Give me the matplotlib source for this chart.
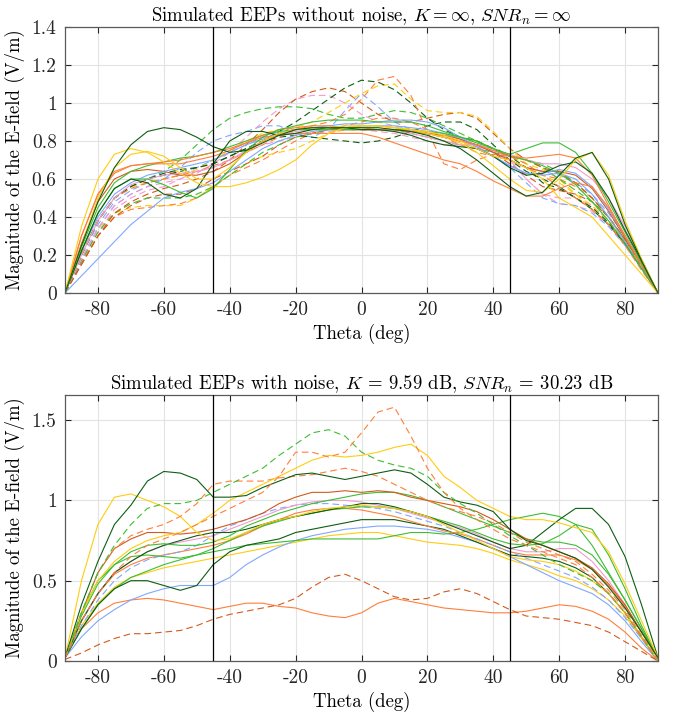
import numpy as np
import matplotlib
matplotlib.use("Agg")
import matplotlib.pyplot as plt

plt.rcParams['font.family'] = ['cmr10', 'DejaVu Serif']
plt.rcParams['mathtext.fontset'] = 'cm'
plt.rcParams['axes.unicode_minus'] = False
plt.rcParams['axes.formatter.use_mathtext'] = True

#%% data (theta every 5 deg)
theta = np.arange(-90, 91, 5)

# --- upper panel: without noise
t_dgreen1 = [0, 0.25, 0.48, 0.66, 0.78, 0.85, 0.87, 0.86, 0.82, 0.77, 0.74, 0.75, 0.79, 0.83, 0.86, 0.87, 0.87, 0.87, 0.87,
             0.87, 0.86, 0.85, 0.83, 0.80, 0.76, 0.70, 0.63, 0.56, 0.51, 0.53, 0.62, 0.71, 0.74, 0.60, 0.36, 0.17, 0]
t_yellow1 = [0, 0.35, 0.60, 0.73, 0.76, 0.74, 0.69, 0.63, 0.58, 0.56, 0.56, 0.58, 0.61, 0.65, 0.70, 0.78, 0.84, 0.87, 0.88,
             0.88, 0.87, 0.86, 0.84, 0.82, 0.79, 0.74, 0.67, 0.60, 0.54, 0.53, 0.60, 0.70, 0.74, 0.62, 0.38, 0.18, 0]
t_yellow2 = [0, 0.25, 0.50, 0.66, 0.73, 0.745, 0.72, 0.66, 0.60, 0.60, 0.66, 0.74, 0.80, 0.84, 0.86, 0.87, 0.87, 0.88, 0.88,
             0.88, 0.87, 0.86, 0.85, 0.83, 0.80, 0.76, 0.72, 0.70, 0.66, 0.60, 0.50, 0.45, 0.40, 0.30, 0.20, 0.10, 0]
t_blue1 = [0, 0.09, 0.18, 0.27, 0.36, 0.43, 0.50, 0.53, 0.55, 0.58, 0.64, 0.70, 0.76, 0.80, 0.83, 0.85, 0.86, 0.87, 0.88,
           0.88, 0.88, 0.87, 0.86, 0.84, 0.81, 0.77, 0.72, 0.67, 0.63, 0.62, 0.63, 0.60, 0.52, 0.40, 0.27, 0.13, 0]
t_orange1 = [0, 0.30, 0.52, 0.63, 0.67, 0.68, 0.68, 0.68, 0.70, 0.72, 0.75, 0.79, 0.82, 0.83, 0.84, 0.84, 0.84, 0.84, 0.84,
             0.82, 0.79, 0.76, 0.73, 0.70, 0.68, 0.64, 0.59, 0.55, 0.51, 0.51, 0.55, 0.58, 0.56, 0.45, 0.30, 0.15, 0]
t_green1 = [0, 0.22, 0.42, 0.55, 0.60, 0.60, 0.57, 0.53, 0.50, 0.55, 0.65, 0.75, 0.82, 0.86, 0.88, 0.90, 0.91, 0.91, 0.91,
            0.90, 0.90, 0.90, 0.88, 0.85, 0.82, 0.80, 0.76, 0.73, 0.76, 0.79, 0.79, 0.74, 0.63, 0.48, 0.32, 0.16, 0]
t_orange2 = [0, 0.30, 0.52, 0.64, 0.67, 0.68, 0.69, 0.70, 0.72, 0.74, 0.76, 0.79, 0.83, 0.86, 0.87, 0.88, 0.88, 0.87, 0.87,
             0.86, 0.86, 0.85, 0.84, 0.82, 0.80, 0.78, 0.75, 0.72, 0.71, 0.72, 0.73, 0.71, 0.62, 0.46, 0.30, 0.15, 0]
t_pink1 = [0, 0.20, 0.38, 0.50, 0.57, 0.60, 0.62, 0.63, 0.64, 0.66, 0.70, 0.75, 0.80, 0.83, 0.85, 0.86, 0.86, 0.86, 0.86,
           0.86, 0.85, 0.84, 0.82, 0.80, 0.78, 0.77, 0.75, 0.73, 0.70, 0.68, 0.68, 0.66, 0.60, 0.50, 0.35, 0.18, 0]
t_dorange1 = [0, 0.26, 0.48, 0.60, 0.64, 0.65, 0.64, 0.62, 0.62, 0.64, 0.68, 0.74, 0.80, 0.84, 0.86, 0.87, 0.87, 0.86, 0.86,
              0.86, 0.86, 0.85, 0.84, 0.83, 0.81, 0.78, 0.74, 0.70, 0.66, 0.64, 0.64, 0.62, 0.55, 0.43, 0.29, 0.15, 0]
t_dgreen2 = [0, 0.22, 0.42, 0.55, 0.60, 0.58, 0.52, 0.50, 0.55, 0.68, 0.80, 0.85, 0.85, 0.83, 0.84, 0.86, 0.87, 0.87, 0.86,
             0.86, 0.85, 0.83, 0.80, 0.78, 0.77, 0.76, 0.72, 0.66, 0.62, 0.63, 0.67, 0.69, 0.63, 0.50, 0.33, 0.17, 0]
t_blue2 = [0, 0.22, 0.40, 0.52, 0.58, 0.62, 0.64, 0.66, 0.68, 0.70, 0.74, 0.78, 0.81, 0.84, 0.86, 0.87, 0.88, 0.89, 0.89,
           0.90, 0.91, 0.91, 0.90, 0.87, 0.82, 0.77, 0.72, 0.67, 0.63, 0.63, 0.65, 0.63, 0.56, 0.44, 0.30, 0.15, 0]
t_green2 = [0, 0.24, 0.45, 0.58, 0.64, 0.67, 0.69, 0.71, 0.72, 0.74, 0.77, 0.80, 0.83, 0.85, 0.86, 0.86, 0.86, 0.86, 0.86,
            0.86, 0.86, 0.86, 0.85, 0.84, 0.82, 0.79, 0.76, 0.72, 0.70, 0.67, 0.63, 0.57, 0.48, 0.38, 0.26, 0.13, 0]
t_orange_d1 = [0, 0.20, 0.38, 0.50, 0.55, 0.58, 0.60, 0.62, 0.64, 0.67, 0.70, 0.74, 0.78, 0.82, 0.86, 0.88, 0.90, 0.94, 1.02,
               1.12, 1.14, 1.04, 0.85, 0.68, 0.65, 0.70, 0.73, 0.72, 0.68, 0.62, 0.56, 0.50, 0.44, 0.36, 0.25, 0.12, 0]
t_dgreen_d1 = [0, 0.20, 0.38, 0.50, 0.56, 0.60, 0.63, 0.65, 0.66, 0.68, 0.72, 0.76, 0.80, 0.85, 0.90, 0.96, 1.02, 1.08, 1.12,
               1.11, 1.07, 1.00, 0.92, 0.86, 0.82, 0.80, 0.76, 0.72, 0.66, 0.58, 0.55, 0.50, 0.45, 0.37, 0.26, 0.13, 0]
t_yellow_d1 = [0, 0.20, 0.38, 0.50, 0.56, 0.58, 0.60, 0.62, 0.65, 0.70, 0.75, 0.80, 0.84, 0.86, 0.87, 0.90, 0.95, 1.00, 1.05,
               1.09, 1.10, 1.02, 0.96, 0.95, 0.95, 0.93, 0.85, 0.76, 0.68, 0.62, 0.58, 0.52, 0.46, 0.38, 0.27, 0.14, 0]
t_dorange_d1 = [0, 0.15, 0.30, 0.42, 0.48, 0.52, 0.55, 0.57, 0.60, 0.64, 0.70, 0.78, 0.86, 0.95, 1.02, 1.06, 1.08, 1.06, 1.00,
                0.94, 0.90, 0.90, 0.92, 0.94, 0.95, 0.92, 0.84, 0.76, 0.70, 0.66, 0.63, 0.58, 0.50, 0.40, 0.28, 0.14, 0]
t_pink_d1 = [0, 0.18, 0.34, 0.46, 0.52, 0.56, 0.58, 0.60, 0.63, 0.68, 0.74, 0.82, 0.90, 0.97, 1.02, 1.04, 1.04, 1.00, 0.94,
             0.90, 0.88, 0.86, 0.84, 0.82, 0.80, 0.78, 0.76, 0.70, 0.60, 0.52, 0.50, 0.50, 0.46, 0.38, 0.27, 0.14, 0]
t_green_d1 = [0, 0.20, 0.38, 0.50, 0.56, 0.60, 0.64, 0.70, 0.78, 0.86, 0.92, 0.95, 0.97, 0.98, 0.98, 0.97, 0.94, 0.92, 0.92,
              0.94, 0.96, 0.95, 0.92, 0.88, 0.84, 0.80, 0.76, 0.72, 0.70, 0.68, 0.64, 0.58, 0.50, 0.40, 0.28, 0.14, 0]
t_blue_d1 = [0, 0.18, 0.34, 0.46, 0.52, 0.56, 0.60, 0.66, 0.74, 0.80, 0.83, 0.85, 0.88, 0.88, 0.84, 0.82, 0.86, 0.96, 1.05,
             0.98, 0.90, 0.86, 0.84, 0.82, 0.80, 0.76, 0.72, 0.66, 0.58, 0.50, 0.47, 0.46, 0.42, 0.35, 0.25, 0.13, 0]
t_dgreen_d2 = [0, 0.20, 0.38, 0.50, 0.56, 0.60, 0.62, 0.64, 0.66, 0.68, 0.72, 0.76, 0.80, 0.82, 0.83, 0.82, 0.81, 0.80, 0.79,
               0.80, 0.82, 0.85, 0.88, 0.90, 0.90, 0.86, 0.78, 0.70, 0.64, 0.60, 0.56, 0.50, 0.44, 0.36, 0.26, 0.13, 0]
t_orange_d2 = [0, 0.16, 0.30, 0.40, 0.44, 0.45, 0.46, 0.47, 0.50, 0.56, 0.62, 0.66, 0.70, 0.75, 0.80, 0.84, 0.86, 0.88, 0.90,
               0.92, 0.92, 0.90, 0.86, 0.82, 0.78, 0.74, 0.72, 0.70, 0.66, 0.62, 0.60, 0.56, 0.50, 0.40, 0.28, 0.14, 0]
t_yellow_d2 = [0, 0.18, 0.34, 0.42, 0.45, 0.46, 0.46, 0.46, 0.50, 0.56, 0.62, 0.68, 0.72, 0.74, 0.76, 0.80, 0.84, 0.86, 0.86,
               0.86, 0.86, 0.85, 0.84, 0.83, 0.82, 0.80, 0.76, 0.72, 0.68, 0.65, 0.60, 0.52, 0.44, 0.36, 0.26, 0.13, 0]
t_pink_d2 = [0, 0.17, 0.32, 0.44, 0.50, 0.54, 0.56, 0.60, 0.64, 0.66, 0.70, 0.74, 0.78, 0.80, 0.82, 0.84, 0.85, 0.86, 0.86,
             0.85, 0.84, 0.82, 0.80, 0.78, 0.78, 0.78, 0.76, 0.70, 0.60, 0.52, 0.47, 0.46, 0.43, 0.36, 0.26, 0.13, 0]
t_dorange_d2 = [0, 0.15, 0.30, 0.40, 0.46, 0.50, 0.52, 0.52, 0.55, 0.60, 0.64, 0.68, 0.72, 0.78, 0.82, 0.84, 0.86, 0.86, 0.86,
                0.86, 0.86, 0.85, 0.84, 0.82, 0.80, 0.78, 0.74, 0.68, 0.62, 0.56, 0.54, 0.52, 0.48, 0.40, 0.28, 0.14, 0]
t_green_d2 = [0, 0.17, 0.32, 0.42, 0.47, 0.50, 0.50, 0.50, 0.52, 0.56, 0.62, 0.68, 0.74, 0.78, 0.82, 0.84, 0.86, 0.86, 0.86,
              0.86, 0.86, 0.84, 0.82, 0.80, 0.78, 0.76, 0.74, 0.72, 0.70, 0.66, 0.60, 0.54, 0.48, 0.40, 0.28, 0.14, 0]
t_blue_d2 = [0, 0.20, 0.36, 0.48, 0.54, 0.58, 0.60, 0.62, 0.66, 0.70, 0.74, 0.78, 0.82, 0.84, 0.86, 0.86, 0.86, 0.87, 0.88,
             0.88, 0.87, 0.86, 0.84, 0.82, 0.80, 0.78, 0.74, 0.70, 0.66, 0.64, 0.62, 0.58, 0.52, 0.42, 0.30, 0.15, 0]

# --- lower panel: with noise
b_dgreen1 = [0.02, 0.35, 0.62, 0.85, 0.97, 1.12, 1.18, 1.17, 1.13, 1.02, 1.02, 1.03, 1.08, 1.12, 1.16, 1.17, 1.15, 1.13, 1.15,
             1.17, 1.19, 1.17, 1.10, 1.02, 0.99, 0.97, 0.93, 0.82, 0.75, 0.72, 0.68, 0.64, 0.57, 0.46, 0.33, 0.18, 0.02]
b_yellow1 = [0.02, 0.50, 0.85, 1.02, 1.04, 1.00, 0.96, 0.90, 0.80, 0.75, 0.76, 0.80, 0.85, 0.88, 0.90, 0.93, 0.95, 0.96, 0.97,
             0.96, 0.95, 0.93, 0.90, 0.85, 0.80, 0.75, 0.70, 0.65, 0.63, 0.62, 0.60, 0.56, 0.50, 0.42, 0.30, 0.15, 0]
b_orange_d1 = [0.02, 0.25, 0.42, 0.55, 0.65, 0.72, 0.76, 0.80, 0.85, 0.90, 0.95, 1.00, 1.05, 1.15, 1.30, 1.30, 1.27, 1.30, 1.42,
               1.55, 1.58, 1.40, 1.20, 1.05, 0.95, 0.88, 0.82, 0.76, 0.72, 0.68, 0.64, 0.60, 0.52, 0.42, 0.30, 0.15, 0]
b_green_d1 = [0.02, 0.30, 0.55, 0.72, 0.85, 0.95, 0.98, 0.98, 1.00, 1.05, 1.10, 1.15, 1.20, 1.28, 1.35, 1.42, 1.44, 1.40, 1.30,
              1.25, 1.22, 1.20, 1.15, 1.05, 0.98, 0.92, 0.85, 0.78, 0.72, 0.66, 0.60, 0.55, 0.50, 0.42, 0.30, 0.15, 0]
b_yellow2 = [0.02, 0.30, 0.50, 0.62, 0.70, 0.75, 0.78, 0.80, 0.85, 0.92, 1.00, 1.05, 1.10, 1.15, 1.20, 1.25, 1.28, 1.27, 1.28,
             1.30, 1.33, 1.35, 1.28, 1.15, 1.08, 1.00, 0.95, 0.90, 0.88, 0.88, 0.86, 0.83, 0.80, 0.68, 0.48, 0.25, 0.02]
b_dgreen2 = [0.02, 0.25, 0.42, 0.55, 0.62, 0.68, 0.72, 0.75, 0.78, 0.80, 0.80, 0.82, 0.85, 0.88, 0.90, 0.92, 0.94, 0.96, 0.98,
             0.98, 0.96, 0.93, 0.90, 0.86, 0.82, 0.78, 0.74, 0.70, 0.72, 0.80, 0.88, 0.95, 0.95, 0.85, 0.65, 0.35, 0.02]
b_dgreen3 = [0.02, 0.20, 0.35, 0.45, 0.50, 0.50, 0.47, 0.44, 0.47, 0.60, 0.68, 0.72, 0.74, 0.76, 0.80, 0.82, 0.84, 0.86, 0.88,
             0.88, 0.88, 0.86, 0.84, 0.82, 0.78, 0.74, 0.70, 0.66, 0.65, 0.64, 0.62, 0.58, 0.52, 0.42, 0.30, 0.15, 0]
b_orange1 = [0.02, 0.20, 0.30, 0.36, 0.38, 0.39, 0.38, 0.36, 0.34, 0.32, 0.34, 0.36, 0.36, 0.34, 0.33, 0.30, 0.28, 0.27, 0.30,
             0.36, 0.39, 0.37, 0.35, 0.33, 0.32, 0.31, 0.30, 0.30, 0.31, 0.33, 0.35, 0.34, 0.31, 0.26, 0.18, 0.08, 0]
b_dorange_d1 = [0.01, 0.05, 0.10, 0.14, 0.17, 0.17, 0.18, 0.19, 0.22, 0.26, 0.29, 0.31, 0.33, 0.35, 0.39, 0.46, 0.52, 0.54, 0.50,
                0.45, 0.40, 0.38, 0.39, 0.43, 0.45, 0.42, 0.37, 0.32, 0.28, 0.27, 0.26, 0.24, 0.22, 0.18, 0.12, 0.06, 0]
b_blue1 = [0.02, 0.15, 0.25, 0.32, 0.38, 0.42, 0.45, 0.47, 0.47, 0.47, 0.52, 0.60, 0.66, 0.71, 0.75, 0.78, 0.80, 0.82, 0.83,
           0.84, 0.84, 0.83, 0.82, 0.80, 0.77, 0.74, 0.70, 0.65, 0.60, 0.55, 0.50, 0.46, 0.42, 0.35, 0.25, 0.12, 0]
b_green1 = [0.02, 0.20, 0.35, 0.45, 0.52, 0.56, 0.60, 0.63, 0.66, 0.68, 0.70, 0.72, 0.73, 0.74, 0.75, 0.76, 0.76, 0.76, 0.76,
            0.76, 0.78, 0.80, 0.80, 0.79, 0.80, 0.82, 0.85, 0.88, 0.90, 0.92, 0.90, 0.85, 0.72, 0.55, 0.38, 0.20, 0.02]
b_dorange1 = [0.02, 0.30, 0.55, 0.70, 0.76, 0.80, 0.80, 0.79, 0.80, 0.82, 0.85, 0.88, 0.92, 0.98, 1.02, 1.05, 1.05, 1.06, 1.05,
              1.06, 1.05, 1.02, 1.00, 0.98, 0.96, 0.93, 0.88, 0.82, 0.76, 0.72, 0.68, 0.64, 0.58, 0.48, 0.35, 0.18, 0.02]
b_pink1 = [0.02, 0.25, 0.42, 0.55, 0.62, 0.68, 0.72, 0.74, 0.76, 0.78, 0.82, 0.86, 0.90, 0.94, 0.97, 0.99, 1.00, 1.00, 0.99,
           0.97, 0.95, 0.92, 0.89, 0.86, 0.83, 0.79, 0.74, 0.70, 0.68, 0.68, 0.70, 0.70, 0.62, 0.50, 0.35, 0.18, 0.02]
b_green2 = [0.02, 0.28, 0.48, 0.60, 0.68, 0.72, 0.73, 0.72, 0.72, 0.74, 0.78, 0.84, 0.88, 0.92, 0.95, 0.98, 1.00, 1.02, 1.04,
            1.05, 1.05, 1.03, 1.00, 0.96, 0.92, 0.88, 0.84, 0.80, 0.76, 0.74, 0.74, 0.72, 0.66, 0.54, 0.38, 0.20, 0.02]
b_blue_d1 = [0.02, 0.22, 0.38, 0.50, 0.58, 0.63, 0.66, 0.68, 0.72, 0.78, 0.84, 0.88, 0.92, 0.95, 0.97, 0.98, 0.98, 0.97, 0.96,
             0.95, 0.93, 0.90, 0.87, 0.84, 0.80, 0.76, 0.72, 0.68, 0.64, 0.60, 0.56, 0.52, 0.46, 0.38, 0.27, 0.14, 0]
b_yellow3 = [0.02, 0.22, 0.36, 0.46, 0.52, 0.55, 0.58, 0.60, 0.62, 0.64, 0.66, 0.68, 0.70, 0.72, 0.74, 0.76, 0.78, 0.79, 0.80,
             0.80, 0.78, 0.76, 0.74, 0.73, 0.72, 0.70, 0.67, 0.63, 0.60, 0.57, 0.53, 0.50, 0.45, 0.38, 0.28, 0.14, 0]
b_orange2 = [0.02, 0.25, 0.42, 0.54, 0.60, 0.64, 0.66, 0.68, 0.70, 0.72, 0.75, 0.79, 0.84, 0.88, 0.92, 0.94, 0.95, 0.95, 0.94,
             0.92, 0.90, 0.87, 0.84, 0.81, 0.79, 0.76, 0.72, 0.68, 0.66, 0.66, 0.66, 0.63, 0.57, 0.47, 0.34, 0.18, 0.02]
b_orange_d2 = [0.02, 0.30, 0.55, 0.70, 0.78, 0.82, 0.85, 0.90, 0.98, 1.10, 1.12, 1.12, 1.12, 1.14, 1.15, 1.16, 1.18, 1.20, 1.18,
               1.15, 1.10, 1.05, 1.00, 0.96, 0.93, 0.90, 0.86, 0.80, 0.74, 0.70, 0.66, 0.62, 0.54, 0.44, 0.32, 0.16, 0.02]
b_green3 = [0.02, 0.30, 0.50, 0.60, 0.65, 0.66, 0.65, 0.64, 0.66, 0.70, 0.75, 0.80, 0.84, 0.87, 0.90, 0.92, 0.94, 0.95, 0.96,
            0.96, 0.95, 0.93, 0.90, 0.87, 0.84, 0.80, 0.76, 0.73, 0.72, 0.73, 0.78, 0.85, 0.82, 0.66, 0.45, 0.22, 0.02]

#%% colours
yellow = '#FFCC11'
orange = '#FF7F3A'
dorange = '#D35A1C'
green = '#3DBE32'
dgreen = '#0D5E12'
blue = '#7FA8FF'
pink = '#F39AD0'

top_lines = [
    (t_orange_d2, orange, '--'), (t_yellow_d2, yellow, '--'), (t_pink_d2, pink, '--'),
    (t_dorange_d2, dorange, '--'), (t_green_d2, green, '--'), (t_blue_d2, blue, '--'),
    (t_blue_d1, blue, '--'), (t_dgreen_d2, dgreen, '--'), (t_pink_d1, pink, '--'),
    (t_green_d1, green, '--'), (t_dorange_d1, dorange, '--'), (t_yellow_d1, yellow, '--'),
    (t_dgreen_d1, dgreen, '--'), (t_orange_d1, orange, '--'),
    (t_blue1, blue, '-'), (t_pink1, pink, '-'), (t_dorange1, dorange, '-'), (t_green2, green, '-'),
    (t_blue2, blue, '-'), (t_orange1, orange, '-'), (t_orange2, orange, '-'), (t_green1, green, '-'),
    (t_dgreen2, dgreen, '-'), (t_yellow2, yellow, '-'), (t_yellow1, yellow, '-'), (t_dgreen1, dgreen, '-'),
]
bottom_lines = [
    (b_orange1, orange, '-'), (b_dorange_d1, dorange, '--'), (b_yellow3, yellow, '-'), (b_blue1, blue, '-'),
    (b_green1, green, '-'), (b_dgreen3, dgreen, '-'), (b_orange2, orange, '-'), (b_blue_d1, blue, '--'),
    (b_pink1, pink, '-'), (b_green3, green, '-'), (b_dgreen2, dgreen, '-'), (b_green2, green, '-'),
    (b_dorange1, dorange, '-'), (b_yellow1, yellow, '-'), (b_orange_d2, orange, '--'),
    (b_yellow2, yellow, '-'), (b_dgreen1, dgreen, '-'), (b_green_d1, green, '--'), (b_orange_d1, orange, '--'),
]

xticks = [-80, -60, -40, -20, 0, 20, 40, 60, 80]
xticklabels = ['-80', '-60', '-40', '-20', '0', '20', '40', '60', '80']
top_yticks = [0, 0.2, 0.4, 0.6, 0.8, 1.0, 1.2, 1.4]
top_yticklabels = ['0', '0.2', '0.4', '0.6', '0.8', '1', '1.2', '1.4']
bot_yticks = [0, 0.5, 1.0, 1.5]
bot_yticklabels = ['0', '0.5', '1', '1.5']

fig = plt.figure(figsize=(6.78, 7.17), dpi=100)
ax1 = fig.add_axes([65 / 678, 1 - 293 / 717, 593 / 678, 266 / 717])
ax2 = fig.add_axes([65 / 678, 1 - 661 / 717, 593 / 678, 266 / 717])


def style_axes(ax, yticks, yticklabels, ymax, title):
    ax.set_xlim(-90, 90)
    ax.set_ylim(0, ymax)
    ax.set_xticks(xticks)
    ax.set_xticklabels(xticklabels)
    ax.set_yticks(yticks)
    ax.set_yticklabels(yticklabels)
    ax.grid(True, color='#e3e3e3', lw=0.8)
    ax.set_axisbelow(True)
    ax.tick_params(direction='in', length=4, width=0.8, top=True, right=True,
                   labelsize=14, colors='#262626', pad=6)
    for s in ax.spines.values():
        s.set_color('#5a5a5a')
        s.set_linewidth(0.9)
    ax.axvline(-45, color='black', lw=0.9, zorder=5)
    ax.axvline(45, color='black', lw=0.9, zorder=5)
    ax.set_xlabel('Theta (deg)', fontsize=13.5, labelpad=3)
    ax.set_ylabel('Magnitude of the E-field (V/m)', fontsize=13.5, labelpad=5)
    ax.set_title(title, fontsize=13.5, pad=4)


for vals, c, ls in top_lines:
    if ls == '--':
        ax1.plot(theta, vals, color=c, lw=0.8, dashes=(6, 3.5))
    else:
        ax1.plot(theta, vals, color=c, lw=0.8)
for vals, c, ls in bottom_lines:
    if ls == '--':
        ax2.plot(theta, vals, color=c, lw=0.8, dashes=(6, 3.5))
    else:
        ax2.plot(theta, vals, color=c, lw=0.8)

style_axes(ax1, top_yticks, top_yticklabels, 1.4,
           r'Simulated EEPs without noise, $K = \infty$, $SNR_n = \infty$')
style_axes(ax2, bot_yticks, bot_yticklabels, 1.656,
           r'Simulated EEPs with noise, $K$ = 9.59 dB, $SNR_n$ = 30.23 dB')

plt.savefig('out.png', dpi=100)
